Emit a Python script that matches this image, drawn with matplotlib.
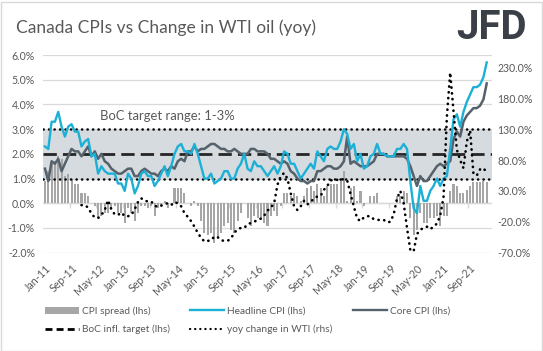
import numpy as np
import pandas as pd
import matplotlib
matplotlib.use('Agg')
import matplotlib.pyplot as plt
from matplotlib.patches import Patch, Rectangle
from matplotlib.lines import Line2D

# monthly data, Jan-11 .. Feb-22 (axis runs one empty month further)
months = pd.date_range('2011-01-01', periods=135, freq='MS')
month_labels = [d.strftime('%b-%y') for d in months]

headline = [
    2.3, 2.2, 3.3, 3.3, 3.7, 3.1, 2.7, 3.1, 3.2, 2.9, 2.9, 2.3,
    2.5, 2.6, 1.9, 2.0, 1.2, 1.5, 1.3, 1.2, 1.2, 1.2, 0.8, 0.8,
    0.5, 1.2, 1.0, 0.4, 0.7, 1.2, 1.3, 1.1, 1.1, 0.7, 0.9, 1.2,
    1.5, 1.1, 1.5, 2.0, 2.3, 2.4, 2.1, 2.1, 2.0, 2.4, 2.0, 1.5,
    1.0, 1.0, 1.2, 0.8, 0.9, 1.0, 1.3, 1.3, 1.0, 1.0, 1.4, 1.6,
    2.0, 1.4, 1.3, 1.7, 1.5, 1.5, 1.3, 1.1, 1.3, 1.5, 1.2, 1.5,
    2.1, 2.0, 1.6, 1.6, 1.3, 1.0, 1.2, 1.4, 1.6, 1.4, 2.1, 1.9,
    1.7, 2.2, 2.3, 2.2, 2.2, 2.5, 3.0, 2.8, 2.2, 2.4, 1.7, 2.0,
    1.4, 1.5, 1.9, 2.0, 2.4, 2.0, 2.0, 1.9, 1.9, 1.9, 2.2, 2.2,
    2.4, 2.2, 0.9, -0.2, -0.4, 0.7, 0.1, 0.1, 0.5, 0.7, 1.0, 0.7,
    1.0, 1.1, 2.2, 3.4, 3.6, 3.1, 3.7, 4.1, 4.4, 4.7, 4.7, 4.8,
    5.1, 5.7,
]

core = [
    1.4, 0.9, 1.7, 1.6, 1.8, 1.3, 1.6, 1.9, 2.2, 2.1, 2.1, 1.9,
    2.1, 2.3, 1.9, 2.1, 1.8, 2.0, 1.7, 1.6, 1.4, 1.3, 1.2, 1.2,
    1.3, 1.4, 1.4, 1.1, 1.1, 1.3, 1.4, 1.3, 1.2, 1.2, 1.1, 1.3,
    1.4, 1.3, 1.5, 1.4, 1.7, 1.8, 1.7, 2.1, 2.1, 2.3, 2.1, 2.2,
    2.2, 2.3, 2.4, 2.4, 2.3, 2.2, 2.2, 2.1, 2.1, 2.2, 2.1, 2.0,
    2.0, 2.0, 2.2, 2.2, 2.1, 2.1, 2.1, 2.0, 1.8, 1.8, 1.7, 1.6,
    1.7, 1.6, 1.3, 1.2, 1.0, 0.9, 0.9, 0.8, 0.9, 0.9, 1.3, 1.3,
    1.4, 1.5, 1.5, 1.4, 1.4, 1.5, 1.7, 2.7, 1.6, 1.7, 1.6, 1.5,
    1.5, 1.5, 1.6, 1.7, 2.0, 2.0, 2.0, 1.9, 1.9, 1.9, 1.9, 1.9,
    1.9, 1.8, 1.5, 1.1, 0.7, 1.1, 0.9, 0.9, 1.1, 1.3, 1.5, 1.6,
    1.5, 1.6, 1.7, 2.6, 2.9, 2.7, 3.3, 3.55, 3.7, 3.85, 3.85, 3.95,
    4.2, 4.85,
]

spread = [
    0.9, 1.3, 1.6, 1.7, 1.9, 1.8, 1.1, 1.2, 1.0, 0.8, 0.8, 0.4,
    0.4, 0.3, 0.0, -0.1, -0.6, -0.5, -0.4, -0.4, -0.2, -0.1, -0.4, -0.4,
    -0.8, -0.2, -0.4, -0.7, -0.4, -0.1, -0.1, -0.2, -0.1, -0.5, -0.2, -0.1,
    0.1, -0.2, 0.0, 0.6, 0.6, 0.6, 0.4, 0.0, -0.1, 0.1, -0.1, -0.7,
    -1.2, -1.3, -1.2, -1.6, -1.4, -1.2, -0.9, -0.8, -1.1, -1.2, -0.7, -0.4,
    0.0, -0.6, -0.9, -0.5, -0.6, -0.6, -0.8, -0.9, -0.5, -0.3, -0.5, -0.1,
    0.4, 0.4, 0.3, 0.4, 0.3, 0.1, 0.3, 0.6, 0.7, 0.5, 0.8, 0.6,
    0.3, 0.7, 0.8, 0.8, 0.8, 1.0, 1.3, 0.1, 0.6, 0.7, 0.1, 0.5,
    -0.1, 0.0, 0.3, 0.3, 0.4, 0.0, 0.0, 0.0, 0.0, 0.0, 0.3, 0.3,
    0.5, 0.4, -0.6, -1.3, -1.1, -0.4, -0.8, -0.8, -0.6, -0.6, -0.5, -0.9,
    -0.5, -0.5, 0.5, 0.8, 0.7, 0.4, 0.4, 0.55, 0.7, 0.85, 0.85, 0.85,
    0.9, 0.85,
]

# yoy change in WTI (rhs), series starts Dec-11
wti = [np.nan] * 11 + [
    7,
    7, 3, -7, -13, -14, -9, -1, 15, 0, -8, -9, -5,
    -11, -11, -9, 0, 12, 18, 14, 13, 13, 6, 4, 6,
    9, 10, 7, 12, 10, 5, -6, -12, -19, -28, -38, -46,
    -52, -51, -50, -44, -45, -50, -51, -51, -47, -38, -32, -30,
    -30, -24, -22, -20, -17, -15, -10, -2, 3, 10, 40, 54,
    59, 50, 26, 5, -1, 5, 14, 8, 12, 18, 21, 22,
    32, 38, 47, 48, 48, 50, 48, 47, 25, 5, -15, -19,
    -13, -11, -11, -16, -17, -17, -17, -21, -20, -8, 18, 30,
    10, -30, -66, -68, -40, -33, -30, -28, -32, -28, -23, -10,
    20, 150, 222, 160, 97, 80, 67, 110, 128, 58, 55, 65,
    67, 60,
]

target_low, target_mid, target_high = 1, 2, 3
left_ticks = [-2, -1, 0, 1, 2, 3, 4, 5, 6]
right_ticks = [-70, -20, 30, 80, 130, 180, 230]

txt = '#595959'
c_head = '#1cb0d6'
c_core = '#55616b'
c_bar = '#a6a6a6'
c_band = '#d5dbde'
grid_c = '#d9d9d9'
font = 'Lato'

x = np.arange(len(headline))

fig = plt.figure(figsize=(5.43, 3.51), dpi=100)
ax = fig.add_axes([43.3 / 543, 98.3 / 351, 448.4 / 543, 197.7 / 351])

ax.axhspan(target_low, target_high, color=c_band, zorder=0.6, lw=0)
ax.bar(x, spread, width=0.62, color=c_bar, zorder=2)
dot = (0, (0.1, 2.1))
ax.axhline(target_low, color='black', lw=1.8, ls=dot, dash_capstyle='round', zorder=3)
ax.axhline(target_high, color='black', lw=1.8, ls=dot, dash_capstyle='round', zorder=3)
ax.axhline(target_mid, color='#262626', lw=2.0, ls=(0, (4.8, 2.2)), zorder=3)
ax.axhline(0, color=grid_c, lw=1.0, zorder=1)
ax.vlines(np.arange(8, 135, 8) - 0.5, -0.2, 0, color=grid_c, lw=1.0, zorder=1)
ax.plot(x, core, color=c_core, lw=1.8, zorder=4, solid_joinstyle='round')
ax.plot(x, headline, color=c_head, lw=1.7, zorder=5, solid_joinstyle='round')

ax.set_xlim(-0.5, len(months) - 0.5)
ax.set_ylim(-2, 6)
ax.set_yticks(left_ticks)
ax.set_yticklabels(['{:.1f}%'.format(v) for v in left_ticks], fontsize=7.6,
                   color=txt, family=font)
ax.yaxis.grid(True, color=grid_c, lw=0.9)
ax.set_axisbelow(True)
tick_pos = np.arange(0, 134, 8)
ax.set_xticks(tick_pos)
ax.set_xticklabels([month_labels[i] for i in tick_pos], rotation=45, ha='right',
                   rotation_mode='anchor', fontsize=7.7, color=txt, family=font)
ax.tick_params(axis='both', length=0)
ax.tick_params(axis='y', pad=6)
ax.tick_params(axis='x', pad=7)
for s in ax.spines.values():
    s.set_visible(False)

ax.text(16.5, 3.55, 'BoC target range: 1-3%', fontsize=9.4, color=txt, family=font,
        va='center', zorder=6)

ax2 = ax.twinx()
ax2.plot(x, wti, color='black', lw=1.9, ls=dot, dash_capstyle='round', zorder=6)
ax2.set_ylim(-70.2, 250.5)
ax2.set_yticks(right_ticks)
ax2.set_yticklabels(['{:.1f}%'.format(v) for v in right_ticks], fontsize=7.6,
                    color=txt, family=font)
ax2.tick_params(axis='y', length=0, pad=4)
for s in ax2.spines.values():
    s.set_visible(False)

fig.text(16 / 543, 1 - 28 / 351, 'Canada CPIs vs Change in WTI oil (yoy)', fontsize=12.5,
         color=txt, family=font, va='center')
fig.text(492 / 543, 1 - 28 / 351, 'JFD', fontsize=29, fontweight='bold', color='#3b4048',
         family='Roboto', ha='center', va='center')

handles = [
    Patch(facecolor=c_bar, edgecolor='none'),
    Line2D([], [], color='black', lw=2.0, ls=(0, (2.5, 1.5))),
    Line2D([], [], color=c_head, lw=1.7),
    Line2D([], [], color='black', lw=1.6, ls=(0, (0.1, 2.2)), dash_capstyle='round'),
    Line2D([], [], color=c_core, lw=1.7),
]
labels = ['CPI spread (lhs)', 'BoC infl. target (lhs)', 'Headline CPI (lhs)',
          'yoy change in WTI (rhs)', 'Core CPI (lhs)']
leg = fig.legend(handles, labels, ncol=3, loc='upper left',
                 bbox_to_anchor=(36 / 543, 1 - 297 / 351), frameon=False,
                 prop={'family': font, 'size': 7.3}, handlelength=3.3,
                 handletextpad=0.35, columnspacing=2.0, labelspacing=0.9)
for t in leg.get_texts():
    t.set_color(txt)

fig.patches.append(Rectangle((0.5 / 543, 0.5 / 351), 541.5 / 543, 349 / 351,
                             transform=fig.transFigure, fill=False,
                             edgecolor=grid_c, lw=1.0))

fig.savefig('out.png', dpi=100)
